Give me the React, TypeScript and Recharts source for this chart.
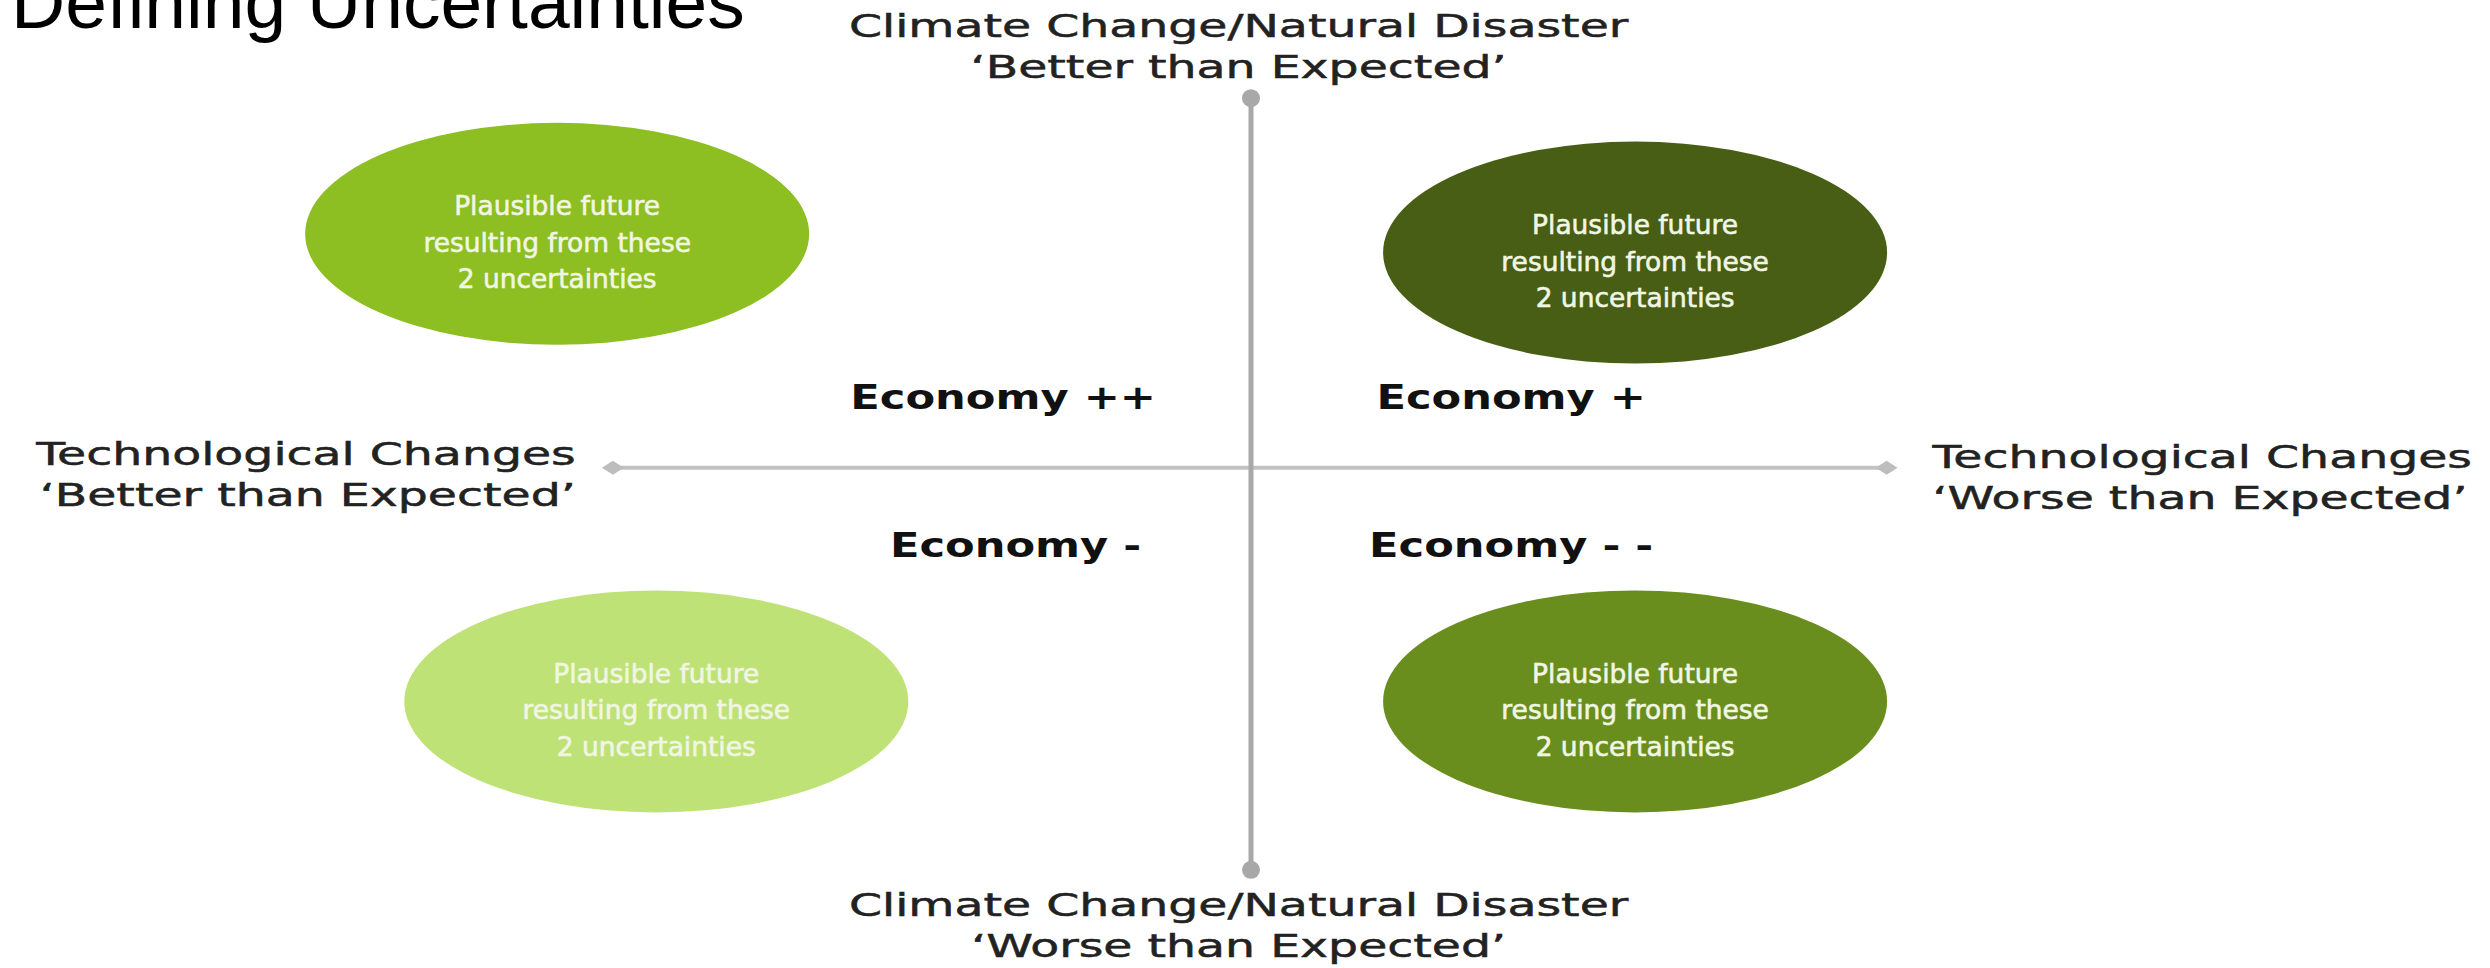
import { ScatterChart, Scatter, XAxis, YAxis, ReferenceLine, ReferenceDot } from 'recharts'

// scenario ellipses: x = technological change score, y = climate score
const scenarioTech = [-5.6, 3.1, -4.8, 3.1]
const scenarioClimate = [5.0, 4.6, -5.0, -5.0]
const scenarioLines = ['Plausible future', 'resulting from these', '2 uncertainties']

// economy labels per quadrant
const economyNames = ['Economy ++', 'Economy +', 'Economy -', 'Economy - -']
const economyTech = [-2.0, 2.1, -1.9, 2.1]
const economyClimate = [1.5, 1.5, -1.65, -1.65]

// axis end labels
const axisLabelLines = [
  ['Climate Change/Natural Disaster', '\u2018Better than Expected\u2019'],
  ['Climate Change/Natural Disaster', '\u2018Worse than Expected\u2019'],
  ['Technological Changes', '\u2018Better than Expected\u2019'],
  ['Technological Changes', '\u2018Worse than Expected\u2019'],
]
const axisLabelTech = [-0.1, -0.1, -5.45, 5.5]
const axisLabelClimate = [9.03, -9.76, -0.12, -0.18]

// extent of the two axes
const techRange = [-5.15, 5.13]
const climateRange = [-8.6, 7.9]

const scenarioColors = ['#8dbe22', '#475e14', '#bfe276', '#6a8e1e']
const labelAnchors = ['middle', 'middle', 'end', 'start']

const ELLIPSE_RX = 252
const ELLIPSE_RY = 111

const scenarioData = scenarioTech.map((x, i) => ({ x, y: scenarioClimate[i], color: scenarioColors[i] }))
const economyData = economyNames.map((name, i) => ({ x: economyTech[i], y: economyClimate[i], name }))
const axisLabelData = axisLabelLines.map((lines, i) => ({
  x: axisLabelTech[i],
  y: axisLabelClimate[i],
  lines,
  anchor: labelAnchors[i],
}))

const ScenarioShape = (props: any) => {
  const { cx, cy, payload } = props
  return (
    <g>
      <ellipse cx={cx} cy={cy} rx={ELLIPSE_RX} ry={ELLIPSE_RY} fill={payload.color} />
      {scenarioLines.map((line, i) => (
        <text
          key={i}
          transform={`translate(${cx},${cy + (i - 1) * 36.5 + 18}) scale(0.98,1)`}
          textAnchor="middle"
          fontFamily="'DejaVu Sans', sans-serif"
          fontSize={27}
          fill="#f1f6e4"
          stroke="#f1f6e4"
          strokeWidth={0.6}
        >
          {line}
        </text>
      ))}
    </g>
  )
}

const EconomyShape = (props: any) => {
  const { cx, cy, payload } = props
  return (
    <text
      transform={`translate(${cx},${cy + 12}) scale(1.27,1)`}
      textAnchor="middle"
      fontFamily="'DejaVu Sans', sans-serif"
      fontWeight="bold"
      fontSize={34}
      fill="#111"
    >
      {payload.name}
    </text>
  )
}

const AxisLabelShape = (props: any) => {
  const { cx, cy, payload } = props
  return (
    <g>
      {payload.lines.map((line: string, i: number) => (
        <text
          key={i}
          transform={`translate(${cx},${cy + (i - 0.5) * 41 + 12}) scale(1.48,1)`}
          textAnchor={payload.anchor}
          fontFamily="'DejaVu Sans', sans-serif"
          fontSize={32}
          fill="#222"
          stroke="#222"
          strokeWidth={0.5}
        >
          {line}
        </text>
      ))}
    </g>
  )
}

const Diamond = (props: any) => {
  const { cx, cy } = props
  return <path d={`M${cx - 11},${cy} L${cx},${cy - 7} L${cx + 11},${cy} L${cx},${cy + 7} Z`} fill="#bdbdbd" />
}

export default function App() {
  return (
    <div style={{ position: 'relative', width: 2490, height: 968, background: '#fff' }}>
      <style>{'body{margin:0}'}</style>
      <ScatterChart width={2490} height={968} margin={{ top: 0, right: 0, bottom: 0, left: 12 }}>
        <XAxis type="number" dataKey="x" domain={[-10, 10]} hide />
        <YAxis type="number" dataKey="y" domain={[-10.7, 10]} hide />
        <ReferenceLine
          segment={[{ x: techRange[0], y: 0 }, { x: techRange[1], y: 0 }]}
          stroke="#c2c2c2"
          strokeWidth={4}
        />
        <ReferenceLine
          segment={[{ x: 0, y: climateRange[0] }, { x: 0, y: climateRange[1] }]}
          stroke="#a8a8a8"
          strokeWidth={5}
        />
        <ReferenceDot x={0} y={climateRange[1]} r={9} fill="#a8a8a8" stroke="none" />
        <ReferenceDot x={0} y={climateRange[0]} r={9} fill="#a8a8a8" stroke="none" />
        <ReferenceDot x={techRange[0]} y={0} r={8} shape={Diamond} />
        <ReferenceDot x={techRange[1]} y={0} r={8} shape={Diamond} />
        <Scatter data={scenarioData} shape={ScenarioShape} isAnimationActive={false} />
        <Scatter data={economyData} shape={EconomyShape} isAnimationActive={false} />
        <Scatter data={axisLabelData} shape={AxisLabelShape} isAnimationActive={false} />
      </ScatterChart>
      <svg width={800} height={60} style={{ position: 'absolute', left: 0, top: 0 }}>
        <text x={11} y={28} fontFamily="'Liberation Sans', Arial, sans-serif" fontSize={75} fill="#000">
          Defining Uncertainties
        </text>
      </svg>
    </div>
  )
}
